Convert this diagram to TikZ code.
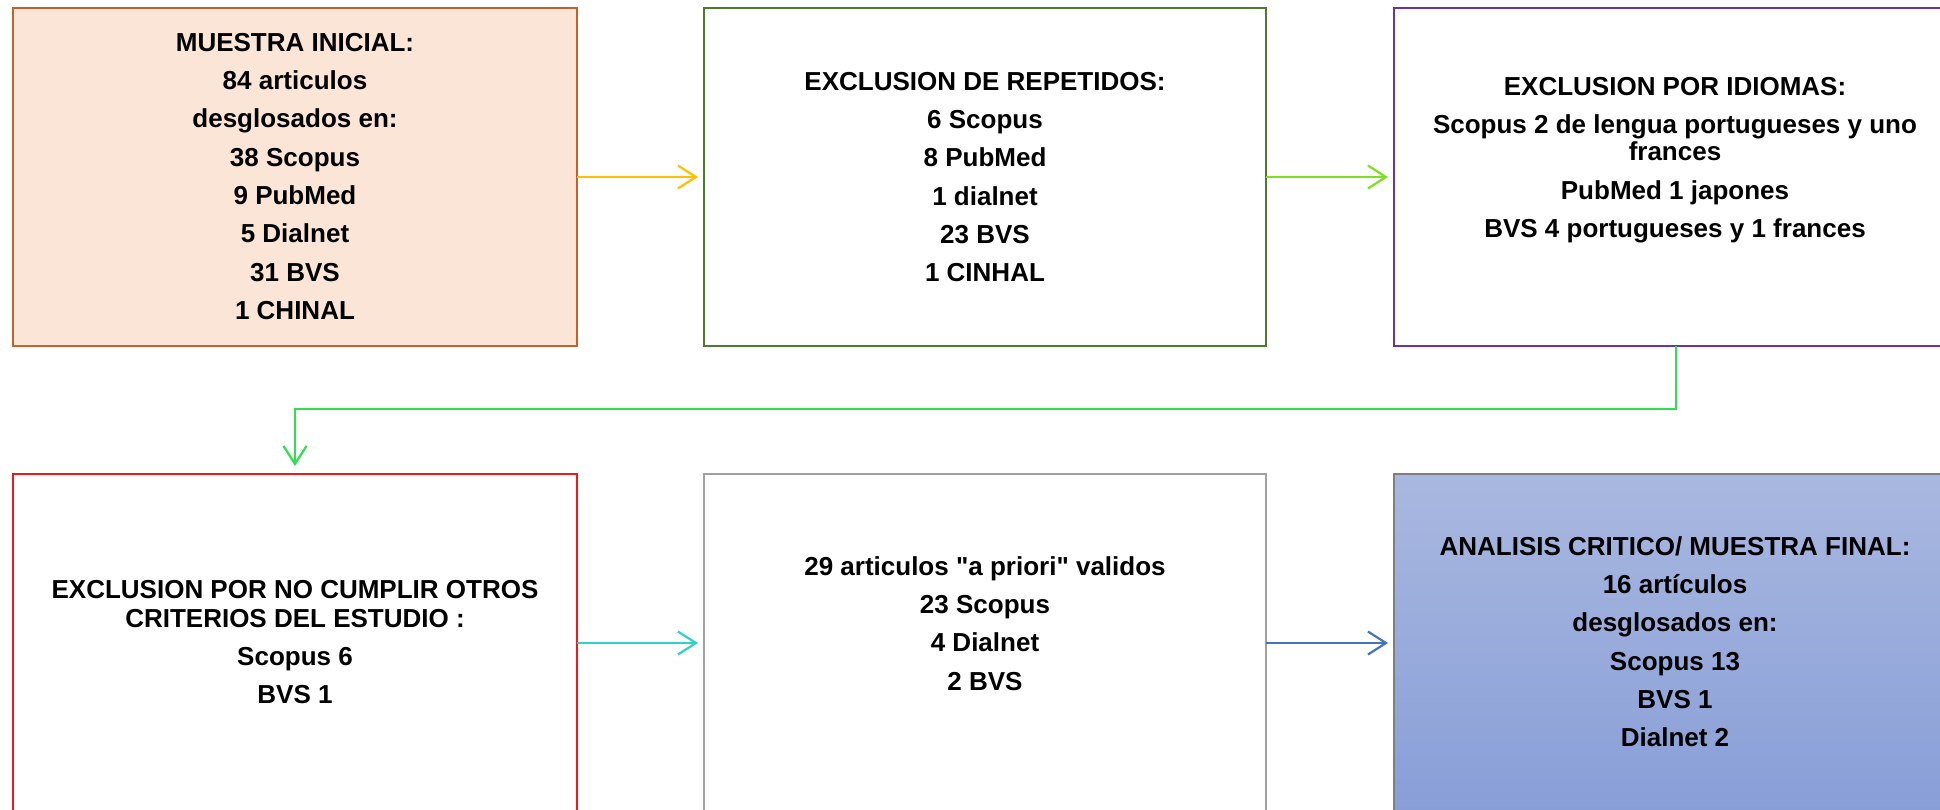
\documentclass[tikz,border=0pt]{standalone}
\usepackage{fontspec}
\setmainfont{Liberation Sans}[Ligatures=TeXOff]
\usetikzlibrary{arrows.meta}
\definecolor{peach}{HTML}{FBE5D6}
\definecolor{bonec}{HTML}{C0622A}
\definecolor{btwoc}{HTML}{4E7A2E}
\definecolor{bthreec}{HTML}{7030A0}
\definecolor{bfourc}{HTML}{F01818}
\definecolor{bfivec}{HTML}{A0A0A0}
\definecolor{bsixc}{HTML}{7F7F7F}
\definecolor{gradtop}{HTML}{A9B8E0}
\definecolor{gradbot}{HTML}{889ED7}
\definecolor{aone}{HTML}{FFC000}
\definecolor{atwo}{HTML}{7EE01E}
\definecolor{athree}{HTML}{2EE050}
\definecolor{afour}{HTML}{33D1C4}
\definecolor{afive}{HTML}{4472C4}
\begin{document}
\begin{tikzpicture}[x=1pt,y=-1pt,
  box/.style={rectangle, minimum width=562pt, minimum height=338pt, line width=2.5pt, outer sep=0pt, inner sep=0pt},
  txt/.style={anchor=north, align=center, inner sep=0pt, font=\fontsize{26}{38.3}\selectfont\bfseries},
  conn/.style={line width=2.2pt, -{Straight Barb[length=18pt,width=23pt,line width=2.2pt]}}]
\fill[white] (0,0) rectangle (1940,809);
\useasboundingbox (0,0) rectangle (1940,809);
% boxes
\node[box, draw=bonec, fill=peach, minimum width=564pt] (b1) at (295,177) {};
\node[box, draw=btwoc, fill=white] (b2) at (985,177) {};
\node[box, draw=bthreec, fill=white] (b3) at (1675,177) {};
\node[box, draw=bfourc, fill=white, minimum width=564pt] (b4) at (295,643) {};
\node[box, draw=bfivec, fill=white] (b5) at (985,643) {};
\node[box, draw=bsixc, top color=gradtop, bottom color=gradbot] (b6) at (1675,643) {};
% texts
\node[txt] (t1) at (295,31) {\rule{0pt}{20pt}MUESTRA INICIAL:\\84 articulos\\desglosados en:\\38 Scopus\\9 PubMed\\5 Dialnet\\31 BVS\\1 CHINAL};
\node[txt] (t2) at (985,70) {\rule{0pt}{20pt}EXCLUSION DE REPETIDOS:\\6 Scopus\\8 PubMed\\1 dialnet\\23 BVS\\1 CINHAL};
\node[txt] (t3) at (1675,75) {\rule{0pt}{20pt}EXCLUSION POR IDIOMAS:\\Scopus 2 de lengua portugueses y uno\\[-11pt]frances\\PubMed 1 japones\\BVS 4 portugueses y 1 frances};
\node[txt] (t4) at (295,578) {\rule{0pt}{20pt}EXCLUSION POR NO CUMPLIR OTROS\\[-9.5pt]CRITERIOS DEL ESTUDIO :\\Scopus 6\\BVS 1};
\node[txt] (t5) at (985,555) {\rule{0pt}{20pt}29 articulos "a priori" validos\\23 Scopus\\4 Dialnet\\2 BVS};
\node[txt] (t6) at (1675,535) {\rule{0pt}{20pt}ANALISIS CRITICO/ MUESTRA FINAL:\\16 artículos\\desglosados en:\\Scopus 13\\BVS 1\\Dialnet 2};
% connectors
\coordinate (j1) at (1676,409);
\coordinate (j2) at (295,409);
\draw[conn, aone] (b1.east) -- ([xshift=-6pt]b2.west);
\draw[conn, atwo] (b2.east) -- ([xshift=-6pt]b3.west);
\draw[conn, athree] (b3.south -| j1) -- (j1) -- (j2) -- ([yshift=8pt]b4.north);
\draw[conn, afour] (b4.east) -- ([xshift=-6pt]b5.west);
\draw[conn, afive] (b5.east) -- ([xshift=-6pt]b6.west);
\end{tikzpicture}
\end{document}
